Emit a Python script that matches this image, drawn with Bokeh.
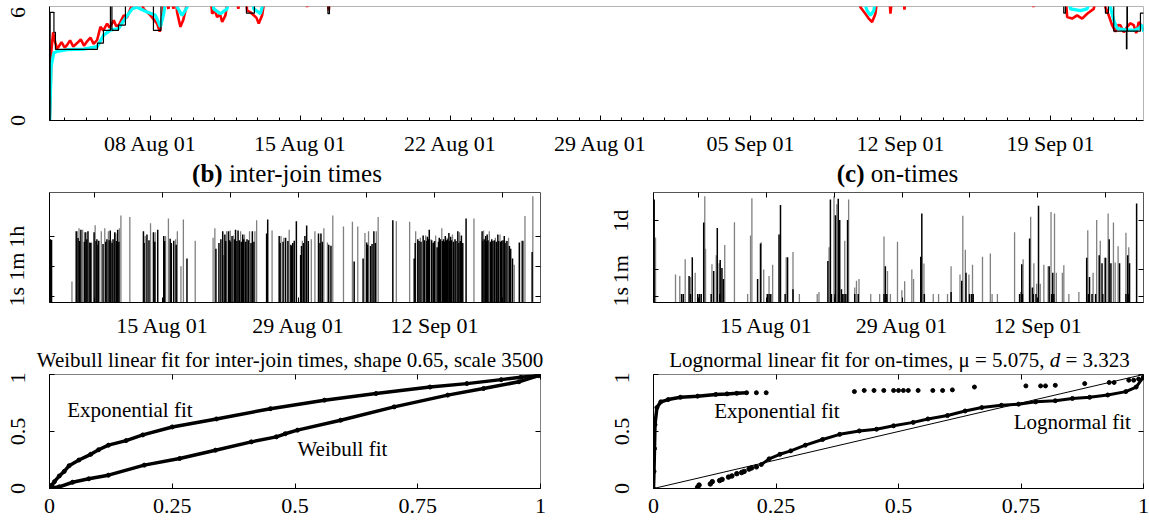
import math
from datetime import datetime, timezone
from bokeh.plotting import figure
from bokeh.layouts import column, row
from bokeh.models import (FixedTicker, DatetimeTickFormatter, LinearAxis, LogAxis,
                          DatetimeAxis, Label, Range1d, Div)
from bokeh.embed import file_html
from bokeh.resources import INLINE

FONT = "Liberation Serif"

# ---------------- data (days since 2001-08-01 00:00 UTC) ----------------
# (a) top time series: red, cyan and black (step) traces
red_series = [(2.301,0),(2.334,1.2),(2.380,3.93),(2.460,4.9),(2.52,4.5),(2.567,4.3),(2.64,4.0),(2.721,4.1),
    (2.85,4.35),(3.0,4.05),(3.113,4.2),(3.25,4.45),(3.40,4.1),(3.58,4.3),(3.75,4.5),(3.90,4.15),(4.046,4.4),
    (4.20,4.6),(4.35,4.25),(4.513,4.47),(4.667,5.2),(4.80,5.0),(4.979,5.38),(5.10,5.15),(5.287,5.56),(5.40,5.25),
    (5.521,5.29),(5.754,5.84),(5.90,5.7),(6.067,6.2),(6.379,7.0),(6.687,6.2),(7.0,5.84),(7.313,5.38),(7.434,4.93),
    (7.546,5.75),(7.653,7.0),(7.84,6.2),(7.95,7.0),(8.073,6.2),(8.15,7.0),(8.246,6.0),(8.40,5.2),(8.526,5.56),
    (8.633,6.1),(8.787,7.0),(9.80,7.0),(9.879,5.93),(10.0,6.1),(10.112,5.75),(10.25,5.9),(10.346,5.47),(10.50,5.84),
    (10.654,7.0),(11.0,7.0),(11.1,6.2),(11.2,7.0),(11.45,7.0),(11.512,6.1),(11.68,6.0),(11.82,5.84),(11.95,5.7),
    (12.054,5.38),(12.212,5.84),(12.366,7.0),(14.25,7.0),(14.312,6.29),(14.38,7.0),(15.25,7.0),(15.32,6.11),
    (15.40,7.0),(40.05,7.0),(40.131,6.29),(40.364,5.93),(40.518,5.66),(40.677,5.47),(40.831,5.93),(40.939,7.0),
    (41.48,7.0),(41.531,5.93),(41.625,7.0),(42.13,7.0),(42.185,6.15),(42.25,7.0),(48.15,7.0),(48.204,6.29),
    (48.25,7.0),(49.70,7.0),(49.777,5.75),(50.01,5.66),(50.243,5.84),(50.476,5.66),(50.71,5.93),(51.017,6.2),
    (51.176,7.0),(51.50,7.0),(51.563,6.29),(51.717,5.84),(51.876,5.29),(52.03,4.93),(52.15,5.3),(52.263,5.29),
    (52.42,4.9),(52.576,5.2),(52.73,5.4),(52.884,5.29),(53.0,4.85),(53.118,5.47),(53.276,5.2),(53.35,5.0)]
cyan_series = [(2.301,0),(2.366,3.0),(2.488,3.75),(2.646,3.84),(3.113,3.93),(3.888,3.96),(4.513,4.1),(4.821,4.75),
    (5.133,5.02),(5.521,5.11),(5.754,5.56),(6.146,6.2),(6.379,6.29),(6.846,6.02),(7.233,5.84),(7.467,5.2),
    (7.621,5.93),(7.733,7.0),(8.20,7.0),(8.246,6.3),(8.479,5.84),(8.713,6.29),(8.80,7.0),(9.90,7.0),(9.954,6.2),
    (10.266,5.93),(10.579,6.2),(10.70,7.0),(11.75,7.0),(11.82,6.2),(12.133,5.93),(12.366,7.0),(40.20,7.0),
    (40.444,6.1),(40.598,5.84),(40.752,6.1),(40.878,7.0),(49.85,7.0),(49.931,6.2),(50.397,6.1),(50.71,6.2),
    (50.943,7.0),(51.72,7.0),(51.797,6.29),(51.951,5.56),(52.109,5.11),(52.417,5.05),(52.884,5.0),(53.118,5.11),
    (53.276,5.29),(53.35,4.93)]
black_series = [(2.301,0),(2.320,6.0),(2.497,4.9),(2.567,3.95),(4.527,4.3),(4.807,5.0),(5.133,7.0),(5.203,5.0),
    (5.507,5.3),(5.833,7.0),(7.140,5.0),(7.490,7.0),(11.480,5.96),(11.853,7.0),(15.283,5.93),(15.353,7.0),
    (49.619,5.96),(49.698,7.0),(51.563,5.96),(51.703,7.0),(51.951,4.96),(52.543,3.97),(52.567,7.0),(52.590,4.96),
    (53.197,5.96),(53.35,5.96)]

# (b) inter-join times (seconds)
ij_black = [(2.35,2500),(2.46,2500),(2.57,2300),(5.11,7500),(5.30,3000),(5.45,2000),(5.59,9300),(5.95,1800),
    (6.03,6600),(6.20,2500),(6.32,7500),(6.51,1630),(6.60,1500),(6.95,6600),(7.15,2000),(7.24,2500),(7.35,1200),
    (7.43,2050),(7.87,1320),(8.15,1800),(8.27,2500),(8.50,2200),(8.61,8500),(8.80,1500),(8.90,2500),(9.08,6600),
    (9.25,2000),(9.38,9300),(9.50,1800),(12.03,7500),(12.10,1500),(12.39,4900),(12.60,2200),(13.06,6600),
    (13.20,1800),(13.50,9300),(14.12,3900),(14.20,2000),(14.78,2750),(14.90,1500),(15.15,2050),(15.40,1200),
    (16.51,185),(19.49,690),(19.80,1500),(20.00,2500),(20.19,7500),(20.41,4900),(20.50,2000),(20.78,7500),
    (20.90,2200),(21.00,1800),(21.15,3900),(21.40,2500),(21.51,9300),(21.65,2000),(21.77,8500),(21.90,2200),
    (22.10,1800),(22.25,4900),(22.35,2500),(22.55,1800),(22.69,2500),(22.85,2200),(23.10,1500),(23.24,7500),
    (23.40,1800),(24.71,5500),(24.82,37500),(26.00,3900),(26.10,1500),(26.40,1800),(26.66,3160),(26.90,2000),
    (27.20,1200),(27.29,1050),(27.40,1500),(27.55,2050),(27.77,30000),(28.21,290),(28.30,1000),(28.50,1500),
    (28.65,3900),(28.83,16500),(29.00,2000),(30.05,5500),(30.20,1500),(30.30,5500),(30.45,1800),(31.10,1200),
    (31.33,1050),(33.72,120),(34.64,185),(35.01,1630),(35.10,1200),(35.40,1000),(35.56,1320),(35.75,7500),
    (35.90,1500),(37.70,34600),(39.90,185),(40.00,1500),(40.27,2500),(40.40,2000),(40.60,1800),(40.82,4300),
    (40.95,2200),(41.20,2000),(41.26,3600),(41.35,2500),(41.45,9300),(41.70,2200),(41.85,1500),(41.93,1630),
    (42.00,2000),(42.26,850),(42.40,1800),(42.48,3160),(42.60,2500),(42.80,2000),(42.92,2500),(43.00,1800),
    (43.10,3900),(43.20,2200),(43.35,2500),(43.47,6000),(43.55,2000),(43.65,3600),(43.75,2200),(43.95,1800),
    (44.10,2500),(44.20,2000),(44.39,7500),(44.50,1500),(44.65,2000),(44.76,4300),(44.90,1500),(45.24,43000),
    (46.89,7500),(46.95,2000),(47.10,2500),(47.26,3900),(47.35,2000),(47.41,4900),(47.50,2200),(47.75,1800),
    (47.88,2500),(48.00,2000),(48.15,2200),(48.35,1800),(48.51,4900),(48.60,2000),(48.80,1800),(48.91,2050),
    (49.05,2200),(49.17,3900),(49.25,1500),(49.45,2000),(49.70,1000),(49.83,690),(50.02,185),(50.72,1630),
    (51.08,2050),(52.04,445)]
ij_gray = [(4.67,8),(5.22,7500),(5.40,11600),(5.77,9300),(6.14,6600),(6.69,1630),(7.06,17000),(7.69,7500),
    (8.05,11600),(8.42,7500),(8.72,2050),(9.19,5500),(9.56,11600),(9.71,66000),(10.63,54000),(12.21,3900),
    (12.76,22300),(13.24,6600),(14.31,3900),(14.60,43000),(15.34,2500),(15.52,7500),(15.89,63),(16.14,37500),
    (17.36,2050),(19.20,3160),(19.38,11600),(20.30,290),(20.59,7500),(20.96,8500),(21.29,4300),(22.03,7500),
    (22.43,4900),(22.95,7500),(23.50,7500),(23.68,34600),(25.27,8500),(26.19,3900),(26.48,3160),(27.03,9300),
    (28.39,2050),(29.31,2500),(29.68,7500),(30.60,11600),(30.97,1630),(31.52,66000),(32.62,14400),(33.54,27600),
    (34.09,14400),(34.83,6000),(35.20,7500),(36.00,7500),(36.19,54000),(38.06,30000),(39.43,27600),(40.05,7500),
    (40.53,3160),(41.08,4300),(41.63,2500),(42.11,4300),(42.74,11600),(43.29,3160),(43.84,4900),(44.57,6600),
    (46.05,43000),(47.04,8500),(47.63,7500),(48.25,3160),(48.73,4900),(49.36,2050),(49.61,3160),(50.20,78),
    (50.94,2050),(51.30,60000),(52.11,900000)]

# (c) on-times (seconds)
on_black = [(2.42,2100000),(5.25,1.5),(5.43,1.5),(6.02,22),(6.17,1.5),(6.35,360),(6.91,1.5),(7.09,1.5),(7.27,1.5),
    (7.53,65000),(8.30,1.5),(8.56,46),(8.93,29000),(9.19,1.5),(9.23,245),(9.41,74),(9.56,14),(13.09,14),
    (13.39,2900),(14.09,1.5),(14.27,1.5),(14.45,1.5),(15.30,11000),(15.45,900000),(15.93,1.5),(16.18,360),
    (16.74,3),(20.34,210),(20.60,2100000),(20.71,1.5),(21.08,1.5),(21.12,195000),(21.41,2300000),(21.45,1.5),
    (21.56,95000),(21.74,3),(21.82,1.5),(22.00,1.5),(22.19,1.5),(22.37,95000),(23.11,1.5),(23.47,1.5),(26.13,1.5),
    (26.27,93),(26.42,1.5),(29.92,390),(30.03,250000),(30.29,1.5),(33.05,2),(34.15,11),(34.59,36),(34.96,1.5),
    (35.18,1.5),(35.33,1.5),(40.12,1.5),(40.34,130),(40.41,1.5),(41.15,6000),(41.44,4),(41.52,1.5),(41.81,1.5),
    (42.07,820000),(43.17,93),(43.43,1.5),(43.54,36),(43.65,1.5),(47.04,340),(47.22,1.5),(47.33,19),(47.59,1.5),
    (47.96,1.5),(48.33,500),(48.62,150),(48.70,1.5),(48.99,340),(49.36,5400),(49.54,150),(50.43,150),(51.09,1.5),
    (51.27,500),(51.38,1.5),(51.46,150),(52.19,1150000)]
on_gray = [(2.56,6900),(4.62,28),(5.06,22),(5.62,270),(6.17,19),(6.65,36),(7.64,3400000),(7.72,1300),(8.38,130),
    (8.82,500),(9.12,150),(9.70,2300),(10.70,68000),(12.06,1.5),(12.36,9600),(12.50,2500000),(13.46,3400),
    (13.72,58),(14.27,22),(14.64,118),(16.04,360),(16.74,800),(17.40,1.5),(19.24,1.5),(19.42,2),(20.46,1650),
    (20.97,3400000),(21.26,1000000),(22.08,4300),(22.48,2100000),(23.11,4),(23.29,11),(23.55,14),(24.76,1.5),
    (25.68,1.5),(26.13,8000),(26.49,46),(26.79,1.5),(27.52,3700),(27.97,2.6),(28.26,10),(29.00,58),(29.18,14),
    (30.25,145),(31.21,1.5),(31.76,1.5),(32.68,1.5),(33.05,93),(33.97,28),(34.26,180000),(34.52,1120),(34.89,28),
    (35.26,118),(36.29,390),(37.10,630),(37.28,1.5),(37.83,1.5),(39.60,15500),(40.23,2),(40.48,270),(41.26,155000),
    (41.59,150),(41.88,6.8),(42.25,7),(42.62,118),(43.06,93),(43.36,316000),(43.72,250000),(43.91,36),(44.53,36),
    (44.68,108),(45.20,1.5),(46.23,2),(47.15,21000),(47.70,36),(48.07,95000),(48.44,4300),(48.88,340),
    (49.25,250000),(49.80,65000),(49.98,165),(50.28,1900),(51.09,14000),(51.38,1650)]

# bottom: linear-fit (Q-Q style) curves
wb_exp_x = [0, 0.005, 0.01, 0.02, 0.03, 0.04, 0.06, 0.084, 0.10, 0.12, 0.156, 0.19, 0.25, 0.34, 0.45, 0.56, 0.665, 0.775, 0.85, 0.92, 0.96, 0.99, 1.0]
wb_exp_y = [0, 0.03, 0.06, 0.11, 0.15, 0.20, 0.25, 0.30, 0.34, 0.38, 0.42, 0.47, 0.54, 0.61, 0.70, 0.775, 0.833, 0.89, 0.92, 0.955, 0.975, 0.99, 1.0]
wb_fit_x = [0, 0.02, 0.047, 0.08, 0.12, 0.193, 0.265, 0.338, 0.411, 0.462, 0.48, 0.505, 0.593, 0.702, 0.811, 0.884, 0.956, 0.996, 1.0]
wb_fit_y = [0, 0.015, 0.055, 0.085, 0.117, 0.205, 0.263, 0.336, 0.409, 0.453, 0.48, 0.512, 0.599, 0.716, 0.819, 0.877, 0.936, 0.99, 1.0]

ln_exp_x = [0, 0.001, 0.002, 0.003, 0.007, 0.015, 0.03, 0.055, 0.09, 0.127, 0.15, 0.17, 0.19]
ln_exp_y = [0, 0.15, 0.35, 0.56, 0.71, 0.76, 0.78, 0.80, 0.81, 0.825, 0.83, 0.835, 0.84]
ln_exp_sparse_x = [0.21, 0.23, 0.41, 0.43, 0.45, 0.47, 0.49, 0.50, 0.51, 0.52, 0.54, 0.57, 0.59, 0.61, 0.655, 0.76, 0.79, 0.80, 0.82, 0.88, 0.93, 0.94, 0.97, 0.98, 0.99, 1.0]
ln_exp_sparse_y = [0.84, 0.84, 0.85, 0.86, 0.86, 0.86, 0.86, 0.86, 0.86, 0.86, 0.86, 0.86, 0.86, 0.865, 0.89, 0.90, 0.90, 0.90, 0.905, 0.92, 0.93, 0.93, 0.95, 0.95, 0.96, 0.97]
ln_fit_sparse_x = [0.09, 0.093, 0.116, 0.12, 0.135, 0.14, 0.153, 0.16, 0.17, 0.18, 0.185, 0.195, 0.20, 0.21]
ln_fit_sparse_y = [0.01, 0.03, 0.04, 0.06, 0.07, 0.08, 0.10, 0.11, 0.13, 0.14, 0.15, 0.17, 0.18, 0.19]
ln_fit_x = [0.22, 0.236, 0.258, 0.28, 0.31, 0.345, 0.38, 0.42, 0.455, 0.49, 0.53, 0.56, 0.60, 0.636, 0.67, 0.71, 0.745, 0.78, 0.82, 0.855, 0.89, 0.927, 0.964, 0.985, 1.0]
ln_fit_y = [0.21, 0.26, 0.30, 0.33, 0.38, 0.43, 0.475, 0.505, 0.52, 0.55, 0.58, 0.61, 0.64, 0.68, 0.71, 0.73, 0.74, 0.76, 0.77, 0.79, 0.80, 0.82, 0.85, 0.89, 0.98]
diag_x = [0, 1]
diag_y = [0, 1]

# ticks / labels
top_tick_day = [7, 14, 21, 28, 35, 42, 49]
top_minor_day = list(range(3, 54))
top_y_ticks = [0, 6]
mid_tick_day = [14, 28, 42]
mid_minor_day = [7, 21, 35, 49]
ij_tick_sec = [1, 60, 3600]
ij_tick_label = ["1s", "1m", "1h"]
on_tick_sec = [1, 60, 86400]
on_tick_label = ["1s", "1m", "1d"]
q_x_ticks = [0, 0.25, 0.5, 0.75, 1]
q_x_labels = ["0", "0.25", "0.5", "0.75", "1"]
q_y_ticks = [0, 0.5, 1]
q_y_labels = ["0", "0.5", "1"]

# ---------------- helpers ----------------
BASE_MS = datetime(2001, 8, 1, tzinfo=timezone.utc).timestamp() * 1000.0
DAY_MS = 86400000.0
TICK_SIZE = "22px"


def ms(d):
    return BASE_MS + d * DAY_MS


def split(series):
    return [ms(t) for t, _ in series], [v for _, v in series]


FMT = "%d %b %y"


def dt_formatter():
    f = DatetimeTickFormatter(microseconds=FMT, milliseconds=FMT, seconds=FMT, minsec=FMT,
                              minutes=FMT, hourmin=FMT, hours=FMT, days=FMT, months=FMT, years=FMT)
    try:
        f.strip_leading_zeros = False
    except Exception:
        pass
    return f


def style_axis(ax, standoff=10, size=TICK_SIZE, minor_in=3):
    ax.major_label_text_font = FONT
    ax.major_label_text_font_size = size
    ax.major_label_text_color = "black"
    ax.major_label_standoff = standoff
    ax.axis_line_color = "black"
    ax.major_tick_line_color = "black"
    ax.minor_tick_line_color = "black"
    ax.major_tick_in = 5
    ax.major_tick_out = 0
    ax.minor_tick_in = minor_in
    ax.minor_tick_out = 0


def style_yaxis(p, standoff):
    p.yaxis.major_label_orientation = "parallel"
    p.yaxis.major_label_standoff = standoff


def mirror(p, cls, side, ticker, minor_in=0):
    ax = cls(ticker=ticker)
    style_axis(ax, standoff=0, size="0px", minor_in=minor_in)
    ax.major_label_text_alpha = 0
    ax.axis_line_color = None
    p.add_layout(ax, side)


def base_fig(**kw):
    p = figure(output_backend="svg", toolbar_location=None, **kw)
    p.grid.visible = False
    p.background_fill_color = "white"
    p.border_fill_color = "white"
    return p


def add_label(p, x, y, text, size="21px"):
    p.add_layout(Label(x=x, y=y, text=text, text_font=FONT, text_font_size=size, text_align="left",
                       text_baseline="middle", text_color="black"))


def title_div(html, width, height, size, pad_top, shift, line_height):
    pl = max(0, 2 * shift)
    pr = max(0, -2 * shift)
    style = ("width:%dpx;height:%dpx;box-sizing:border-box;padding:%dpx %dpx 0 %dpx;"
             "font-family:'Liberation Serif',serif;font-size:%dpx;line-height:%dpx;text-align:center;"
             "color:#000;white-space:nowrap;overflow:visible;margin:0" %
             (width, height, pad_top, pr, pl, size, line_height))
    return Div(text='<div style="%s">%s</div>' % (style, html), width=width, height=height, margin=0)


# ---------------- (a) top panel ----------------
pa = base_fig(width=1149, height=158, x_axis_type="datetime",
              x_range=Range1d(ms(2.29), ms(53.34)), y_range=Range1d(0, 6.33),
              min_border_left=49, min_border_right=6, min_border_top=6, min_border_bottom=36)
pa.outline_line_color = "#b4b4b4"
rx, ry = split(red_series)
cx, cy = split(cyan_series)
bx, by = split(black_series)
pa.line(rx, ry, line_color="#ff0000", line_width=2.6)
pa.line(cx, cy, line_color="#00ffff", line_width=3.2)
pa.step(bx, by, mode="after", line_color="black", line_width=1.2)
pa.xaxis.ticker = FixedTicker(ticks=[ms(d) for d in top_tick_day], minor_ticks=[ms(d) for d in top_minor_day])
pa.xaxis.formatter = dt_formatter()
pa.yaxis.ticker = FixedTicker(ticks=top_y_ticks)
for ax in pa.xaxis + pa.yaxis:
    style_axis(ax)
style_yaxis(pa, 25)


# ---------------- (b) / (c) middle panels ----------------
def middle(width, left, right, ylo, yhi, black, gray, ticks, labels, x0):
    p = base_fig(width=width, height=152, x_axis_type="datetime", y_axis_type="log",
                 x_range=Range1d(ms(x0), ms(52.9)), y_range=Range1d(10 ** ylo, 10 ** yhi),
                 min_border_left=left, min_border_right=right, min_border_top=4, min_border_bottom=35)
    p.outline_line_color = "#555555"
    gx, gy = split(gray)
    kx, ky = split(black)
    p.segment(x0=gx, y0=0.1, x1=gx, y1=gy, line_color="#808080", line_width=1.3)
    p.segment(x0=kx, y0=0.1, x1=kx, y1=ky, line_color="black", line_width=1.5)
    p.xaxis.ticker = FixedTicker(ticks=[ms(d) for d in mid_tick_day], minor_ticks=[ms(d) for d in mid_minor_day])
    p.xaxis.formatter = dt_formatter()
    p.yaxis.ticker = FixedTicker(ticks=ticks)
    p.yaxis.major_label_overrides = {t: l for t, l in zip(ticks, labels)}
    for ax in p.xaxis + p.yaxis:
        style_axis(ax, minor_in=5)
    style_yaxis(p, 20)
    mirror(p, LogAxis, "right", FixedTicker(ticks=ticks))
    mirror(p, DatetimeAxis, "above",
           FixedTicker(ticks=[ms(d) for d in mid_tick_day], minor_ticks=[ms(d) for d in mid_minor_day]), minor_in=5)
    return p


pb = middle(596, 49, 56, -0.35, 6.18, ij_black, ij_gray, ij_tick_sec, ij_tick_label, 2.36)
pc = middle(553, 57, 6, -0.38, 6.77, on_black, on_gray, on_tick_sec, on_tick_label, 2.35)
db = title_div("<b>(b)</b> inter-join times", 596, 30, 25, 3, -11, 26)
dc = title_div("<b>(c)</b> on-times", 553, 30, 25, 3, 25, 26)


# ---------------- bottom panels ----------------
def bottom(width, left, right):
    p = base_fig(width=width, height=150, x_range=Range1d(0, 1), y_range=Range1d(0, 1),
                 min_border_left=left, min_border_right=right, min_border_top=2, min_border_bottom=34)
    p.outline_line_color = "#808080"
    p.xaxis.ticker = FixedTicker(ticks=q_x_ticks)
    p.xaxis.major_label_overrides = {t: l for t, l in zip(q_x_ticks, q_x_labels)}
    p.yaxis.ticker = FixedTicker(ticks=q_y_ticks)
    p.yaxis.major_label_overrides = {t: l for t, l in zip(q_y_ticks, q_y_labels)}
    for ax in p.xaxis + p.yaxis:
        style_axis(ax, standoff=10)
    style_yaxis(p, 25)
    mirror(p, LinearAxis, "right", FixedTicker(ticks=q_y_ticks))
    mirror(p, LinearAxis, "above", FixedTicker(ticks=q_x_ticks))
    return p


pd_ = bottom(596, 49, 56)
pd_.line(wb_exp_x, wb_exp_y, line_color="black", line_width=3.5)
pd_.scatter(wb_exp_x, wb_exp_y, size=4, color="black")
pd_.line(wb_fit_x, wb_fit_y, line_color="black", line_width=3.5)
pd_.scatter(wb_fit_x, wb_fit_y, size=4, color="black")
add_label(pd_, 0.036, 0.687, "Exponential fit")
add_label(pd_, 0.505, 0.35, "Weibull fit")

pe = bottom(553, 57, 6)
pe.line(diag_x, diag_y, line_color="black", line_width=1)
pe.line(ln_exp_x, ln_exp_y, line_color="black", line_width=3.5)
pe.scatter(ln_exp_x, ln_exp_y, size=4, color="black")
pe.scatter(ln_exp_sparse_x, ln_exp_sparse_y, size=4, color="black")
pe.scatter(ln_fit_sparse_x, ln_fit_sparse_y, size=4.5, color="black")
pe.line(ln_fit_x, ln_fit_y, line_color="black", line_width=3)
pe.scatter(ln_fit_x, ln_fit_y, size=4, color="black")
add_label(pe, 0.124, 0.68, "Exponential fit")
add_label(pe, 0.735, 0.58, "Lognormal fit")

dd = title_div("Weibull linear fit for inter-join times, shape 0.65, scale 3500", 596, 32, 21, 9, -8, 22)
de = title_div("Lognormal linear fit for on-times, \u03bc = 5.075, <i>d</i> = 3.323", 553, 32, 21, 9, 27, 22)

layout = column(pa, row(column(db, pb), column(dc, pc)), row(column(dd, pd_), column(de, pe)))

with open("out.html", "w") as f:
    f.write(file_html(layout, INLINE))
